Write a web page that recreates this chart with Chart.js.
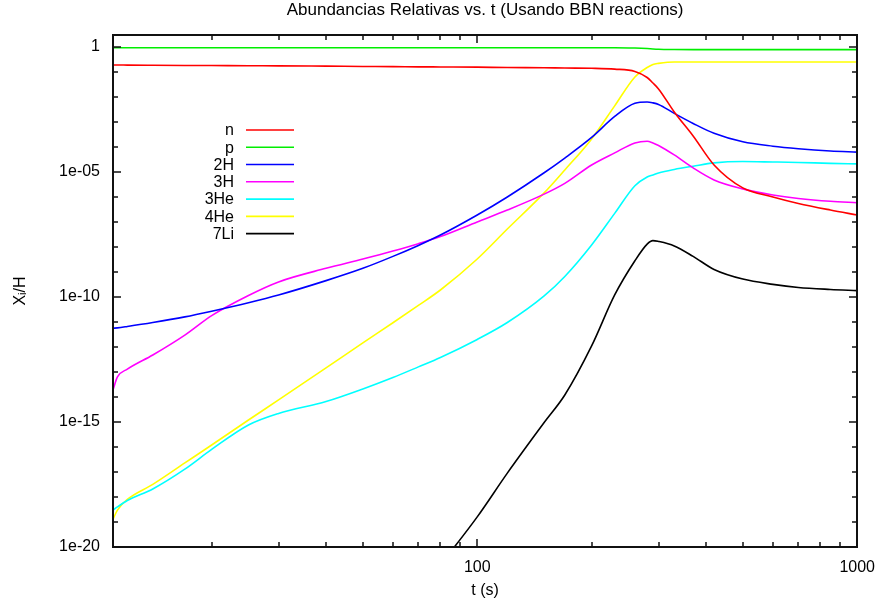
<!DOCTYPE html>
<html>
<head>
<meta charset="utf-8">
<script src="https://cdn.jsdelivr.net/npm/chart.js@4.4.0/dist/chart.umd.min.js"></script>
<style>
  html, body { margin: 0; padding: 0; background: #fff; }
  #wrap { width: 886px; height: 608px; }
</style>
</head>
<body>
<div id="wrap"><canvas id="bbnChart" width="886" height="608"></canvas></div>
<script>
// t (s) sample points, shared by every species
const times = [11, 11.3, 12, 14, 17, 20, 25, 30, 40, 50, 60, 70, 80, 100, 120, 150, 170, 200, 230, 260, 280, 290, 300, 330, 370, 420, 500, 600, 700, 850, 1000];

const nData   = [0.19, 0.19, 0.188, 0.185, 0.182, 0.18, 0.177, 0.175, 0.17, 0.166, 0.163, 0.16, 0.158, 0.155, 0.15, 0.147, 0.143, 0.14, 0.13, 0.105, 0.06, 0.036, 0.021, 2.5e-3, 2.75e-4, 1.9e-5, 2.3e-6, 1e-6, 5.5e-7, 3e-7, 1.9e-7];
const pData   = [0.93, 0.93, 0.93, 0.93, 0.93, 0.93, 0.93, 0.93, 0.93, 0.93, 0.93, 0.93, 0.93, 0.93, 0.93, 0.93, 0.93, 0.93, 0.93, 0.9, 0.86, 0.83, 0.81, 0.79, 0.78, 0.78, 0.78, 0.78, 0.78, 0.78, 0.78];
const h2Data  = [5.6e-12, 5.8e-12, 6.6e-12, 9.5e-12, 1.6e-11, 2.7e-11, 5.9e-11, 1.2e-10, 4.5e-10, 1.4e-9, 4.2e-9, 1.15e-8, 3e-8, 1.9e-7, 1e-6, 9.3e-6, 3.6e-5, 2.4e-4, 1.66e-3, 5.6e-3, 6.3e-3, 5.8e-3, 5e-3, 2.2e-3, 8.7e-4, 3.5e-4, 1.6e-4, 1.07e-4, 8.5e-5, 6.9e-5, 6.2e-5];
const h3Data  = [1.9e-14, 6.3e-14, 1.3e-13, 4.8e-13, 3e-12, 1.8e-11, 1.15e-10, 4e-10, 1.4e-9, 3.3e-9, 6.9e-9, 1.35e-8, 2.6e-8, 1e-7, 3e-7, 1.3e-6, 3.5e-6, 1.9e-5, 5.8e-5, 1.45e-4, 1.7e-4, 1.45e-4, 1.15e-4, 4.8e-5, 1.45e-5, 4.8e-6, 2.1e-6, 1.2e-6, 8.7e-7, 6.7e-7, 5.9e-7];
const he3Data = [3e-19, 4e-19, 7.2e-19, 2.1e-18, 1.3e-17, 8e-17, 7.6e-16, 2.2e-15, 6.6e-15, 2.1e-14, 6e-14, 1.6e-13, 3.8e-13, 2e-12, 9.5e-12, 1.1e-10, 6.6e-10, 1.2e-8, 2.2e-7, 2.8e-6, 6.3e-6, 7.6e-6, 9.1e-6, 1.26e-5, 1.7e-5, 2.3e-5, 2.6e-5, 2.5e-5, 2.4e-5, 2.2e-5, 2.1e-5];
const he4Data = [1.3e-19, 3e-19, 8e-19, 3.2e-18, 2.3e-17, 1.2e-16, 1.2e-15, 7.6e-15, 1.45e-13, 1.45e-12, 9.3e-12, 4.6e-11, 1.9e-10, 3.3e-9, 5.2e-8, 1.45e-6, 1.2e-5, 2.1e-4, 4.4e-3, 0.063, 0.15, 0.2, 0.22, 0.25, 0.25, 0.25, 0.25, 0.25, 0.25, 0.25, 0.25];
const li7Data = [null, null, null, null, null, null, null, null, null, null, null, null, 1.9e-21, 1.6e-19, 9e-18, 9.5e-16, 1.2e-14, 1.1e-12, 1.2e-10, 2.8e-9, 1.3e-8, 1.8e-8, 1.66e-8, 1.1e-8, 4.2e-9, 1.26e-9, 5.2e-10, 3.2e-10, 2.4e-10, 2e-10, 1.8e-10];

const speciesNames  = ['n', 'p', '2H', '3H', '3He', '4He', '7Li'];
const speciesColors = ['#ff0000', '#00ee00', '#0000ff', '#ff00ff', '#00ffff', '#ffff00', '#000000'];

const xTicks = [20, 30, 40, 50, 60, 70, 80, 90, 100, 200, 300, 400, 500, 600, 700, 800, 900, 1000];
const xLabelValues = [100, 1000];
const xLabelText = ['100', '1000'];

const yTicks = [1e-20, 1e-19, 1e-18, 1e-17, 1e-16, 1e-15, 1e-14, 1e-13, 1e-12, 1e-11, 1e-10, 1e-9, 1e-8, 1e-7, 1e-6, 1e-5, 1e-4, 1e-3, 1e-2, 1e-1, 1];
const yLabelValues = [1e-20, 1e-15, 1e-10, 1e-5, 1];
const yLabelText = ['1e-20', '1e-15', '1e-10', '1e-05', '1'];

const FONT = '"Liberation Sans", Arial, Helvetica, sans-serif';

function labelIndex(values, v) {
    return values.findIndex(u => Math.abs(Math.log10(u) - Math.log10(v)) < 1e-6);
}

const gnuplotFrame = {
    id: 'gnuplotFrame',
    afterDatasetsDraw(chart) {
        const { ctx, chartArea: a, scales: { x, y } } = chart;
        const L = Math.round(a.left), R = Math.round(a.right);
        const T = Math.round(a.top), B = Math.round(a.bottom);
        ctx.save();
        ctx.fillStyle = '#111';
        // border, about 2px like the gnuplot output
        ctx.fillRect(L - 1, T - 1, R - L + 2, 2);
        ctx.fillRect(L - 1, B - 1, R - L + 2, 2);
        ctx.fillRect(L - 1, T - 1, 2, B - T + 2);
        ctx.fillRect(R - 1, T - 1, 2, B - T + 2);
        // ticks pointing inwards on all four sides
        xTicks.forEach(v => {
            const px = Math.round(x.getPixelForValue(v));
            const len = labelIndex(xLabelValues, v) >= 0 ? 8 : 5;
            ctx.fillRect(px - 0.75, B - len, 1.5, len);
            ctx.fillRect(px - 0.75, T, 1.5, len);
        });
        yTicks.forEach(v => {
            const py = Math.round(y.getPixelForValue(v));
            const len = labelIndex(yLabelValues, v) >= 0 ? 8 : 5;
            ctx.fillRect(L, py - 0.75, len, 1.5);
            ctx.fillRect(R - len, py - 0.75, len, 1.5);
        });

        // key, gnuplot style: right aligned names, sample line to the right
        ctx.font = '16px ' + FONT;
        ctx.textAlign = 'right';
        ctx.textBaseline = 'middle';
        chart.data.datasets.forEach((ds, i) => {
            const ky = 130 + i * 17.27;
            ctx.fillStyle = '#000';
            ctx.fillText(ds.label, 234, ky + 1);
            ctx.strokeStyle = ds.borderColor;
            ctx.lineWidth = 1.6;
            ctx.beginPath();
            ctx.moveTo(246, ky);
            ctx.lineTo(294, ky);
            ctx.stroke();
        });
        ctx.restore();
    }
};

const seriesData = [nData, pData, h2Data, h3Data, he3Data, he4Data, li7Data];

const datasets = seriesData.map((arr, i) => ({
    label: speciesNames[i],
    data: times.map((t, j) => ({ x: t, y: arr[j] })),
    borderColor: speciesColors[i],
    borderWidth: 1.6,
    pointRadius: 0,
    fill: false,
    cubicInterpolationMode: 'monotone'
}));

const ctx = document.getElementById('bbnChart').getContext('2d');
new Chart(ctx, {
    type: 'line',
    data: { datasets: datasets },
    options: {
        responsive: false,
        animation: false,
        layout: { padding: { top: 0, right: 25, bottom: 0, left: 0 } },
        plugins: {
            legend: { display: false },
            tooltip: { enabled: false },
            title: {
                display: true,
                fullSize: false,
                text: 'Abundancias Relativas vs. t (Usando BBN reactions)',
                color: '#000',
                font: { family: FONT, size: 17, weight: 'normal', lineHeight: 1.2 },
                padding: { top: 0, bottom: 14.6 }
            }
        },
        scales: {
            x: {
                type: 'logarithmic',
                min: 11,
                max: 1000,
                grid: { display: false, drawTicks: false },
                border: { display: false },
                afterFit: (scale) => { scale.height = 61; },
                afterBuildTicks: (scale) => { scale.ticks = xTicks.map(v => ({ value: v })); },
                ticks: {
                    autoSkip: false,
                    maxRotation: 0,
                    padding: 11,
                    color: '#000',
                    font: { family: FONT, size: 16 },
                    callback: (v) => {
                        const k = labelIndex(xLabelValues, v);
                        return k >= 0 ? xLabelText[k] : '';
                    }
                },
                title: {
                    display: true,
                    text: 't (s)',
                    color: '#000',
                    font: { family: FONT, size: 16 },
                    padding: { top: 0, bottom: 7.4 }
                }
            },
            y: {
                type: 'logarithmic',
                min: 1e-20,
                max: 3,
                grid: { display: false, drawTicks: false },
                border: { display: false },
                afterFit: (scale) => { scale.width = 113; },
                afterBuildTicks: (scale) => { scale.ticks = yTicks.map(v => ({ value: v })); },
                ticks: {
                    autoSkip: false,
                    padding: 13,
                    color: '#000',
                    font: { family: FONT, size: 16 },
                    callback: (v) => {
                        const k = labelIndex(yLabelValues, v);
                        return k >= 0 ? yLabelText[k] : '';
                    }
                },
                title: {
                    display: true,
                    text: 'Xᵢ/H',
                    color: '#000',
                    font: { family: FONT, size: 16 },
                    padding: { top: 11.4, bottom: 0 }
                }
            }
        }
    },
    plugins: [gnuplotFrame]
});
</script>
</body>
</html>
